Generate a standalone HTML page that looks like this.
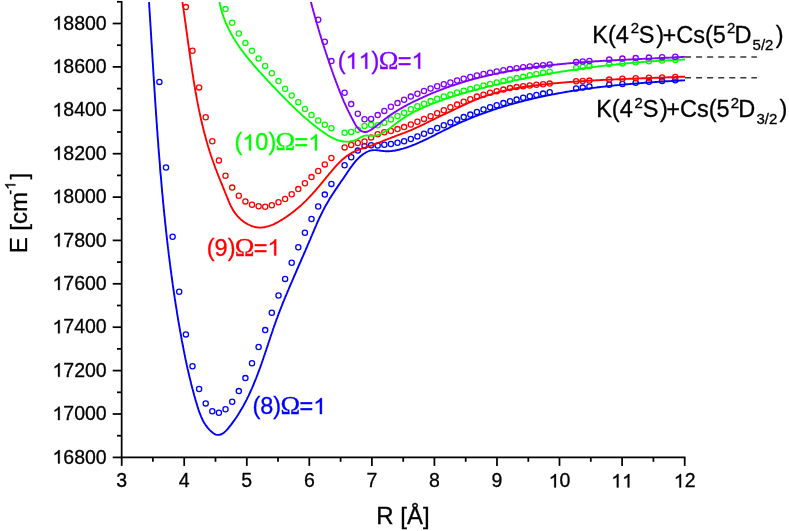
<!DOCTYPE html>
<html><head><meta charset="utf-8"><title>Potential energy curves</title>
<style>html,body{margin:0;padding:0;background:#fff;}svg{display:block;will-change:transform;}text{font-family:"Liberation Sans",sans-serif;stroke-width:0.3px;font-kerning:none;}.om{font-family:"Liberation Serif",serif;}</style>
</head><body>
<svg width="789" height="531" viewBox="0 0 789 531">
<rect width="789" height="531" fill="#fff"/>
<defs><clipPath id="cp"><rect x="122" y="1.5" width="564" height="456"/></clipPath></defs>
<g fill="none" stroke="#0000ff" clip-path="url(#cp)">
<path d="M149.0,2.1 L149.1,3.2 L149.2,4.4 L149.2,5.6 L149.3,6.8 L149.4,8.0 L149.5,9.2 L149.5,10.4 L149.6,11.5 L149.7,12.7 L149.8,13.9 L149.8,15.1 L149.9,16.3 L150.0,17.5 L150.1,18.7 L150.1,19.9 L150.2,21.1 L150.3,22.2 L150.4,23.4 L150.4,24.6 L150.5,25.8 L150.6,27.0 L150.7,28.2 L150.7,29.4 L150.8,30.6 L150.9,31.8 L151.0,33.0 L151.0,34.1 L151.1,35.3 L151.2,36.5 L151.2,37.7 L151.3,38.9 L151.4,40.1 L151.5,41.3 L151.5,42.5 L151.6,43.7 L151.7,44.9 L151.8,46.1 L151.8,47.3 L151.9,48.5 L152.0,49.7 L152.1,50.9 L152.1,52.0 L152.2,53.2 L152.3,54.4 L152.3,55.6 L152.4,56.8 L152.5,58.0 L152.6,59.2 L152.6,60.4 L152.7,61.6 L152.8,62.8 L152.9,64.0 L152.9,65.2 L153.0,66.4 L153.1,67.6 L153.2,68.8 L153.2,70.0 L153.3,71.2 L153.4,72.4 L153.5,73.6 L153.5,74.8 L153.6,76.0 L153.7,77.2 L153.8,78.4 L153.8,79.6 L153.9,80.8 L154.0,82.0 L154.1,83.2 L154.1,84.4 L154.2,85.6 L154.3,86.8 L154.4,88.0 L154.4,89.2 L154.5,90.4 L154.6,91.6 L154.7,92.8 L154.8,94.0 L154.8,95.2 L154.9,96.4 L155.0,97.6 L155.1,98.8 L155.1,100.0 L155.2,101.2 L155.3,102.4 L155.4,103.6 L155.5,104.8 L155.5,106.0 L155.6,107.2 L155.7,108.4 L155.8,109.6 L155.9,110.8 L155.9,112.0 L156.0,113.2 L156.1,114.4 L156.2,115.6 L156.3,116.8 L156.4,118.0 L156.4,119.2 L156.5,120.4 L156.6,121.6 L156.7,122.8 L156.8,124.0 L156.9,125.2 L156.9,126.4 L157.0,127.6 L157.1,128.8 L157.2,130.0 L157.3,131.2 L157.4,132.4 L157.5,133.6 L157.5,134.8 L157.6,136.0 L157.7,137.2 L157.8,138.4 L157.9,139.6 L158.0,140.8 L158.1,142.0 L158.2,143.2 L158.3,144.4 L158.3,145.6 L158.4,146.8 L158.5,148.0 L158.6,149.2 L158.7,150.4 L158.8,151.6 L158.9,152.8 L159.0,154.0 L159.1,155.2 L159.2,156.5 L159.3,157.7 L159.4,158.9 L159.5,160.1 L159.6,161.3 L159.7,162.5 L159.8,163.7 L159.9,164.9 L160.0,166.1 L160.0,167.3 L160.1,168.5 L160.2,169.7 L160.3,170.9 L160.4,172.1 L160.5,173.3 L160.6,174.5 L160.8,175.7 L160.9,176.9 L161.0,178.1 L161.1,179.3 L161.2,180.5 L161.3,181.7 L161.4,182.9 L161.5,184.1 L161.6,185.3 L161.7,186.5 L161.8,187.7 L161.9,188.9 L162.0,190.1 L162.1,191.3 L162.2,192.5 L162.3,193.7 L162.5,194.9 L162.6,196.1 L162.7,197.3 L162.8,198.5 L162.9,199.7 L163.0,200.9 L163.1,202.1 L163.2,203.3 L163.4,204.5 L163.5,205.7 L163.6,206.9 L163.7,208.1 L163.8,209.3 L163.9,210.5 L164.1,211.7 L164.2,212.9 L164.3,214.1 L164.4,215.3 L164.6,216.5 L164.7,217.7 L164.8,218.9 L164.9,220.1 L165.0,221.3 L165.2,222.5 L165.3,223.6 L165.4,224.8 L165.6,226.0 L165.7,227.2 L165.8,228.4 L165.9,229.6 L166.1,230.8 L166.2,232.0 L166.3,233.2 L166.5,234.4 L166.6,235.6 L166.7,236.8 L166.9,238.0 L167.0,239.2 L167.1,240.4 L167.3,241.6 L167.4,242.8 L167.5,244.0 L167.7,245.2 L167.8,246.4 L168.0,247.5 L168.1,248.7 L168.3,249.9 L168.4,251.1 L168.5,252.3 L168.7,253.5 L168.8,254.7 L169.0,255.9 L169.1,257.1 L169.3,258.3 L169.4,259.5 L169.6,260.7 L169.7,261.8 L169.9,263.0 L170.0,264.2 L170.2,265.4 L170.3,266.6 L170.5,267.8 L170.6,269.0 L170.8,270.2 L171.0,271.4 L171.1,272.5 L171.3,273.7 L171.4,274.9 L171.6,276.1 L171.8,277.3 L171.9,278.5 L172.1,279.7 L172.2,280.8 L172.4,282.0 L172.6,283.2 L172.7,284.4 L172.9,285.6 L173.1,286.8 L173.3,288.0 L173.4,289.1 L173.6,290.3 L173.8,291.5 L173.9,292.7 L174.1,293.9 L174.3,295.1 L174.5,296.2 L174.6,297.4 L174.8,298.6 L175.0,299.8 L175.2,301.0 L175.4,302.1 L175.5,303.3 L175.7,304.5 L175.9,305.7 L176.1,306.9 L176.3,308.0 L176.5,309.2 L176.7,310.4 L176.9,311.6 L177.0,312.7 L177.2,313.9 L177.4,315.1 L177.6,316.3 L177.8,317.4 L178.0,318.6 L178.2,319.8 L178.4,321.0 L178.6,322.1 L178.8,323.3 L179.0,324.5 L179.2,325.7 L179.4,326.8 L179.6,328.0 L179.8,329.2 L180.0,330.4 L180.2,331.5 L180.5,332.7 L180.7,333.9 L180.9,335.0 L181.1,336.2 L181.3,337.4 L181.5,338.5 L181.7,339.7 L181.9,340.9 L182.2,342.1 L182.4,343.2 L182.6,344.4 L182.8,345.6 L183.1,346.7 L183.3,347.9 L183.5,349.0 L183.7,350.2 L184.0,351.4 L184.2,352.5 L184.4,353.7 L184.7,354.9 L184.9,356.0 L185.1,357.2 L185.4,358.4 L185.6,359.5 L185.9,360.7 L186.1,361.9 L186.4,363.0 L186.6,364.2 L186.9,365.4 L187.1,366.5 L187.4,367.7 L187.6,368.9 L187.9,370.0 L188.2,371.2 L188.4,372.3 L188.7,373.5 L189.0,374.7 L189.2,375.8 L189.5,377.0 L189.8,378.2 L190.1,379.3 L190.4,380.5 L190.7,381.7 L191.0,382.8 L191.2,384.0 L191.5,385.2 L191.8,386.3 L192.1,387.5 L192.4,388.7 L192.8,389.8 L193.1,391.0 L193.4,392.2 L193.7,393.4 L194.0,394.5 L194.3,395.7 L194.7,396.9 L195.0,398.0 L195.3,399.2 L195.7,400.4 L196.0,401.6 L196.4,402.7 L196.7,403.9 L197.1,405.1 L197.4,406.3 L197.8,407.4 L198.2,408.6 L198.5,409.8 L198.9,410.9 L199.3,412.1 L199.8,413.2 L200.2,414.4 L200.7,415.5 L201.1,416.6 L201.6,417.7 L202.1,418.8 L202.6,419.9 L203.2,420.9 L203.7,422.0 L204.3,423.0 L205.0,424.0 L205.6,425.0 L206.3,425.9 L207.0,426.9 L207.7,427.8 L208.5,428.7 L209.3,429.6 L210.1,430.4 L211.0,431.2 L211.9,432.0 L212.8,432.8 L213.8,433.5 L214.8,434.1 L215.9,434.6 L217.0,434.9 L218.2,434.9 L219.4,434.8 L220.6,434.5 L221.8,434.0 L222.9,433.4 L223.9,432.7 L224.8,431.9 L225.7,431.1 L226.6,430.2 L227.4,429.3 L228.2,428.4 L228.9,427.4 L229.7,426.5 L230.4,425.5 L231.2,424.6 L231.9,423.6 L232.6,422.6 L233.3,421.6 L234.1,420.7 L234.7,419.7 L235.4,418.7 L236.1,417.7 L236.8,416.7 L237.4,415.7 L238.1,414.7 L238.7,413.7 L239.4,412.6 L240.0,411.6 L240.6,410.6 L241.2,409.6 L241.8,408.5 L242.4,407.5 L243.0,406.5 L243.6,405.4 L244.1,404.4 L244.7,403.3 L245.3,402.3 L245.8,401.2 L246.4,400.1 L246.9,399.1 L247.4,398.0 L248.0,396.9 L248.5,395.9 L249.0,394.8 L249.5,393.7 L250.0,392.6 L250.5,391.5 L251.0,390.4 L251.5,389.3 L252.0,388.3 L252.4,387.2 L252.9,386.1 L253.4,385.0 L253.8,383.9 L254.3,382.7 L254.7,381.6 L255.2,380.5 L255.6,379.4 L256.1,378.3 L256.5,377.2 L256.9,376.1 L257.4,374.9 L257.8,373.8 L258.2,372.7 L258.6,371.6 L259.1,370.5 L259.5,369.3 L259.9,368.2 L260.3,367.1 L260.7,365.9 L261.1,364.8 L261.5,363.7 L261.9,362.5 L262.3,361.4 L262.7,360.3 L263.1,359.1 L263.5,358.0 L263.8,356.8 L264.2,355.7 L264.6,354.6 L265.0,353.4 L265.4,352.3 L265.8,351.1 L266.2,350.0 L266.5,348.8 L266.9,347.7 L267.3,346.6 L267.7,345.4 L268.1,344.3 L268.4,343.1 L268.8,342.0 L269.2,340.8 L269.6,339.7 L270.0,338.6 L270.3,337.4 L270.7,336.3 L271.1,335.1 L271.5,334.0 L271.9,332.8 L272.3,331.7 L272.7,330.6 L273.0,329.4 L273.4,328.3 L273.8,327.2 L274.2,326.0 L274.6,324.9 L275.0,323.8 L275.4,322.6 L275.8,321.5 L276.2,320.4 L276.6,319.2 L277.1,318.1 L277.5,317.0 L277.9,315.9 L278.3,314.8 L278.7,313.6 L279.2,312.5 L279.6,311.4 L280.0,310.3 L280.4,309.2 L280.9,308.1 L281.3,306.9 L281.8,305.8 L282.2,304.7 L282.6,303.6 L283.1,302.5 L283.5,301.4 L284.0,300.3 L284.4,299.2 L284.9,298.1 L285.3,297.0 L285.8,295.9 L286.3,294.8 L286.7,293.7 L287.2,292.6 L287.6,291.5 L288.1,290.4 L288.6,289.3 L289.0,288.2 L289.5,287.1 L290.0,286.0 L290.4,284.9 L290.9,283.8 L291.4,282.7 L291.9,281.6 L292.3,280.5 L292.8,279.4 L293.3,278.3 L293.8,277.2 L294.2,276.1 L294.7,275.0 L295.2,273.9 L295.7,272.8 L296.2,271.7 L296.6,270.6 L297.1,269.5 L297.6,268.4 L298.1,267.3 L298.6,266.2 L299.0,265.1 L299.5,264.0 L300.0,262.9 L300.5,261.8 L301.0,260.7 L301.4,259.6 L301.9,258.5 L302.4,257.4 L302.9,256.3 L303.4,255.2 L303.8,254.1 L304.3,253.0 L304.8,251.9 L305.3,250.8 L305.7,249.7 L306.2,248.6 L306.7,247.5 L307.2,246.4 L307.6,245.3 L308.1,244.2 L308.6,243.1 L309.1,242.0 L309.5,240.9 L310.0,239.8 L310.5,238.6 L310.9,237.5 L311.4,236.4 L311.9,235.3 L312.3,234.2 L312.8,233.1 L313.3,232.0 L313.8,230.9 L314.2,229.7 L314.7,228.6 L315.2,227.5 L315.7,226.4 L316.2,225.3 L316.6,224.2 L317.1,223.1 L317.6,222.0 L318.1,220.9 L318.6,219.8 L319.1,218.7 L319.6,217.6 L320.1,216.5 L320.7,215.5 L321.2,214.4 L321.7,213.3 L322.3,212.2 L322.8,211.1 L323.3,210.1 L323.9,209.0 L324.4,208.0 L325.0,206.9 L325.6,205.8 L326.2,204.8 L326.8,203.8 L327.4,202.7 L328.0,201.7 L328.6,200.7 L329.2,199.6 L329.8,198.6 L330.4,197.6 L331.1,196.6 L331.7,195.6 L332.4,194.6 L333.0,193.6 L333.7,192.6 L334.3,191.6 L335.0,190.6 L335.6,189.6 L336.3,188.6 L337.0,187.6 L337.7,186.6 L338.3,185.6 L339.0,184.6 L339.7,183.6 L340.4,182.6 L341.0,181.6 L341.7,180.7 L342.4,179.7 L343.1,178.7 L343.8,177.7 L344.4,176.7 L345.1,175.7 L345.8,174.7 L346.5,173.7 L347.1,172.7 L347.8,171.7 L348.5,170.7 L349.2,169.7 L349.8,168.7 L350.5,167.7 L351.2,166.8 L352.0,165.8 L352.7,164.8 L353.4,163.9 L354.2,163.0 L354.9,162.0 L355.7,161.1 L356.5,160.2 L357.3,159.4 L358.2,158.5 L359.0,157.7 L359.9,156.8 L360.8,156.0 L361.8,155.3 L362.7,154.5 L363.7,153.8 L364.7,153.2 L365.8,152.5 L366.8,152.0 L367.9,151.5 L369.0,151.0 L370.1,150.7 L371.3,150.4 L372.4,150.2 L373.6,150.1 L374.8,150.1 L376.0,150.1 L377.2,150.2 L378.4,150.4 L379.6,150.5 L380.8,150.7 L382.0,150.9 L383.3,151.0 L384.5,151.1 L385.7,151.2 L386.9,151.2 L388.1,151.2 L389.3,151.2 L390.5,151.1 L391.6,151.0 L392.8,150.8 L394.0,150.7 L395.2,150.5 L396.3,150.3 L397.5,150.0 L398.6,149.8 L399.8,149.5 L400.9,149.2 L402.1,148.9 L403.2,148.6 L404.4,148.2 L405.5,147.9 L406.7,147.5 L407.8,147.1 L408.9,146.7 L410.0,146.3 L411.2,145.9 L412.3,145.4 L413.4,145.0 L414.5,144.5 L415.6,144.1 L416.7,143.6 L417.8,143.1 L418.9,142.7 L420.0,142.2 L421.1,141.7 L422.2,141.2 L423.3,140.6 L424.4,140.1 L425.5,139.6 L426.6,139.1 L427.7,138.6 L428.8,138.0 L429.8,137.5 L430.9,137.0 L432.0,136.4 L433.1,135.9 L434.2,135.3 L435.2,134.8 L436.3,134.2 L437.4,133.7 L438.5,133.2 L439.5,132.6 L440.6,132.1 L441.7,131.5 L442.8,131.0 L443.9,130.4 L444.9,129.9 L446.0,129.4 L447.1,128.8 L448.2,128.3 L449.2,127.8 L450.3,127.2 L451.4,126.7 L452.5,126.2 L453.6,125.7 L454.7,125.2 L455.8,124.7 L456.9,124.2 L457.9,123.7 L459.0,123.2 L460.1,122.7 L461.2,122.2 L462.3,121.7 L463.4,121.2 L464.5,120.8 L465.6,120.3 L466.7,119.8 L467.8,119.4 L469.0,118.9 L470.1,118.4 L471.2,118.0 L472.3,117.5 L473.4,117.1 L474.5,116.7 L475.6,116.2 L476.7,115.8 L477.9,115.4 L479.0,114.9 L480.1,114.5 L481.2,114.1 L482.3,113.7 L483.5,113.3 L484.6,112.9 L485.7,112.5 L486.8,112.1 L488.0,111.7 L489.1,111.3 L490.2,110.9 L491.4,110.5 L492.5,110.1 L493.6,109.7 L494.8,109.3 L495.9,109.0 L497.0,108.6 L498.2,108.2 L499.3,107.9 L500.5,107.5 L501.6,107.1 L502.7,106.8 L503.9,106.4 L505.0,106.1 L506.2,105.8 L507.3,105.4 L508.5,105.1 L509.6,104.7 L510.8,104.4 L511.9,104.1 L513.1,103.8 L514.2,103.4 L515.4,103.1 L516.5,102.8 L517.7,102.5 L518.8,102.2 L520.0,101.9 L521.1,101.6 L522.3,101.3 L523.5,101.0 L524.6,100.7 L525.8,100.4 L526.9,100.1 L528.1,99.8 L529.3,99.5 L530.4,99.2 L531.6,99.0 L532.8,98.7 L533.9,98.4 L535.1,98.1 L536.3,97.9 L537.4,97.6 L538.6,97.3 L539.8,97.1 L541.0,96.8 L542.1,96.6 L543.3,96.3 L544.5,96.1 L545.6,95.8 L546.8,95.6 L548.0,95.3 L549.2,95.1 L550.4,94.9 L551.5,94.6 L552.7,94.4 L553.9,94.2 L555.1,94.0 L556.2,93.7 L557.4,93.5 L558.6,93.3 L559.8,93.1 L561.0,92.9 L562.2,92.7 L563.3,92.4 L564.5,92.2 L565.7,92.0 L566.9,91.8 L568.1,91.6 L569.3,91.4 L570.4,91.2 L571.6,91.0 L572.8,90.9 L574.0,90.7 L575.2,90.5 L576.4,90.3 L577.6,90.1 L578.8,89.9 L579.9,89.8 L581.1,89.6 L582.3,89.4 L583.5,89.2 L584.7,89.1 L585.9,88.9 L587.1,88.7 L588.3,88.6 L589.5,88.4 L590.7,88.2 L591.9,88.1 L593.1,87.9 L594.3,87.8 L595.4,87.6 L596.6,87.5 L597.8,87.3 L599.0,87.2 L600.2,87.0 L601.4,86.9 L602.6,86.8 L603.8,86.6 L605.0,86.5 L606.2,86.3 L607.4,86.2 L608.6,86.1 L609.8,85.9 L611.0,85.8 L612.2,85.7 L613.4,85.6 L614.6,85.4 L615.8,85.3 L617.0,85.2 L618.2,85.1 L619.4,85.0 L620.6,84.8 L621.8,84.7 L623.0,84.6 L624.1,84.5 L625.3,84.4 L626.5,84.3 L627.7,84.2 L628.9,84.1 L630.1,84.0 L631.3,83.9 L632.5,83.8 L633.7,83.7 L634.9,83.6 L636.1,83.5 L637.3,83.4 L638.5,83.3 L639.7,83.2 L640.9,83.1 L642.1,83.0 L643.3,82.9 L644.5,82.8 L645.7,82.7 L646.9,82.6 L648.1,82.5 L649.3,82.4 L650.5,82.4 L651.7,82.3 L652.9,82.2 L654.1,82.1 L655.3,82.0 L656.4,82.0 L657.6,81.9 L658.8,81.8 L660.0,81.7 L661.2,81.6 L662.4,81.6 L663.6,81.5 L664.8,81.4 L666.0,81.3 L667.2,81.3 L668.4,81.2 L669.6,81.1 L670.8,81.1 L671.9,81.0 L673.1,80.9 L674.3,80.9 L675.5,80.8 L676.7,80.7 L677.9,80.7 L679.1,80.6 L680.3,80.5 L681.5,80.5 L682.6,80.4 L683.8,80.4 L685.0,80.3" stroke-width="1.9" stroke-linejoin="round"/>
<g stroke-width="1.3">
<circle cx="159.4" cy="81.9" r="2.6"/>
<circle cx="166.0" cy="167.5" r="2.6"/>
<circle cx="172.6" cy="236.8" r="2.6"/>
<circle cx="179.2" cy="291.7" r="2.6"/>
<circle cx="185.9" cy="334.4" r="2.6"/>
<circle cx="192.5" cy="366.3" r="2.6"/>
<circle cx="199.1" cy="389.0" r="2.6"/>
<circle cx="205.7" cy="403.4" r="2.6"/>
<circle cx="212.3" cy="411.3" r="2.6"/>
<circle cx="218.9" cy="412.7" r="2.6"/>
<circle cx="225.5" cy="409.3" r="2.6"/>
<circle cx="232.2" cy="401.8" r="2.6"/>
<circle cx="238.8" cy="391.1" r="2.6"/>
<circle cx="245.4" cy="378.1" r="2.6"/>
<circle cx="252.0" cy="363.2" r="2.6"/>
<circle cx="258.6" cy="347.0" r="2.6"/>
<circle cx="265.2" cy="330.1" r="2.6"/>
<circle cx="271.8" cy="312.8" r="2.6"/>
<circle cx="278.5" cy="295.5" r="2.6"/>
<circle cx="285.1" cy="278.9" r="2.6"/>
<circle cx="291.7" cy="262.8" r="2.6"/>
<circle cx="298.3" cy="247.2" r="2.6"/>
<circle cx="304.9" cy="232.7" r="2.6"/>
<circle cx="311.5" cy="219.0" r="2.6"/>
<circle cx="318.2" cy="206.5" r="2.6"/>
<circle cx="324.8" cy="194.6" r="2.6"/>
<circle cx="331.4" cy="183.9" r="2.6"/>
<circle cx="344.6" cy="165.3" r="2.6"/>
<circle cx="351.2" cy="157.3" r="2.6"/>
<circle cx="357.8" cy="150.6" r="2.6"/>
<circle cx="364.5" cy="146.0" r="2.6"/>
<circle cx="371.1" cy="145.3" r="2.6"/>
<circle cx="377.7" cy="145.5" r="2.6"/>
<circle cx="384.3" cy="144.8" r="2.6"/>
<circle cx="390.9" cy="144.0" r="2.6"/>
<circle cx="397.5" cy="142.8" r="2.6"/>
<circle cx="404.1" cy="141.2" r="2.6"/>
<circle cx="410.8" cy="139.0" r="2.6"/>
<circle cx="417.4" cy="136.4" r="2.6"/>
<circle cx="424.0" cy="133.7" r="2.6"/>
<circle cx="430.6" cy="130.9" r="2.6"/>
<circle cx="437.2" cy="128.0" r="2.6"/>
<circle cx="443.8" cy="125.2" r="2.6"/>
<circle cx="450.4" cy="122.4" r="2.6"/>
<circle cx="457.1" cy="119.7" r="2.6"/>
<circle cx="463.7" cy="117.1" r="2.6"/>
<circle cx="470.3" cy="114.6" r="2.6"/>
<circle cx="476.9" cy="112.0" r="2.6"/>
<circle cx="483.5" cy="109.5" r="2.6"/>
<circle cx="490.1" cy="107.2" r="2.6"/>
<circle cx="496.7" cy="105.3" r="2.6"/>
<circle cx="503.4" cy="103.1" r="2.6"/>
<circle cx="510.0" cy="101.2" r="2.6"/>
<circle cx="516.6" cy="99.6" r="2.6"/>
<circle cx="523.2" cy="97.8" r="2.6"/>
<circle cx="529.8" cy="96.2" r="2.6"/>
<circle cx="536.4" cy="95.0" r="2.6"/>
<circle cx="543.1" cy="93.6" r="2.6"/>
<circle cx="549.7" cy="92.2" r="2.6"/>
<circle cx="576.1" cy="88.5" r="2.6"/>
<circle cx="582.7" cy="87.6" r="2.6"/>
<circle cx="589.4" cy="86.5" r="2.6"/>
<circle cx="609.2" cy="84.7" r="2.6"/>
<circle cx="622.4" cy="84.0" r="2.6"/>
<circle cx="635.7" cy="82.7" r="2.6"/>
<circle cx="648.9" cy="81.8" r="2.6"/>
<circle cx="662.1" cy="80.9" r="2.6"/>
<circle cx="675.3" cy="80.3" r="2.6"/>
</g></g>
<g fill="none" stroke="#ff0000" clip-path="url(#cp)">
<path d="M182.4,2.0 L182.6,3.2 L182.8,4.3 L182.9,5.5 L183.1,6.7 L183.3,7.8 L183.5,9.0 L183.6,10.2 L183.8,11.4 L184.0,12.5 L184.1,13.7 L184.3,14.9 L184.5,16.1 L184.6,17.3 L184.8,18.4 L185.0,19.6 L185.1,20.8 L185.3,22.0 L185.5,23.2 L185.6,24.3 L185.8,25.5 L186.0,26.7 L186.1,27.9 L186.3,29.1 L186.4,30.3 L186.6,31.4 L186.8,32.6 L186.9,33.8 L187.1,35.0 L187.3,36.2 L187.4,37.4 L187.6,38.6 L187.7,39.8 L187.9,40.9 L188.1,42.1 L188.2,43.3 L188.4,44.5 L188.6,45.7 L188.7,46.9 L188.9,48.1 L189.1,49.3 L189.2,50.5 L189.4,51.7 L189.6,52.8 L189.7,54.0 L189.9,55.2 L190.1,56.4 L190.2,57.6 L190.4,58.8 L190.6,60.0 L190.7,61.2 L190.9,62.4 L191.1,63.6 L191.3,64.8 L191.4,66.0 L191.6,67.1 L191.8,68.3 L192.0,69.5 L192.1,70.7 L192.3,71.9 L192.5,73.1 L192.7,74.3 L192.9,75.5 L193.1,76.7 L193.3,77.9 L193.4,79.1 L193.6,80.3 L193.8,81.4 L194.0,82.6 L194.2,83.8 L194.4,85.0 L194.6,86.2 L194.8,87.4 L195.0,88.6 L195.2,89.8 L195.4,91.0 L195.6,92.1 L195.8,93.3 L196.1,94.5 L196.3,95.7 L196.5,96.9 L196.7,98.1 L196.9,99.3 L197.1,100.4 L197.4,101.6 L197.6,102.8 L197.8,104.0 L198.1,105.2 L198.3,106.3 L198.5,107.5 L198.8,108.7 L199.0,109.9 L199.3,111.1 L199.5,112.2 L199.8,113.4 L200.0,114.6 L200.3,115.8 L200.5,116.9 L200.8,118.1 L201.0,119.3 L201.3,120.4 L201.6,121.6 L201.8,122.8 L202.1,124.0 L202.4,125.1 L202.7,126.3 L203.0,127.4 L203.3,128.6 L203.5,129.8 L203.8,130.9 L204.1,132.1 L204.4,133.3 L204.7,134.4 L205.1,135.6 L205.4,136.7 L205.7,137.9 L206.0,139.0 L206.3,140.2 L206.6,141.3 L207.0,142.5 L207.3,143.6 L207.6,144.8 L208.0,145.9 L208.3,147.1 L208.7,148.2 L209.0,149.4 L209.4,150.5 L209.7,151.7 L210.1,152.8 L210.5,153.9 L210.8,155.1 L211.2,156.2 L211.6,157.3 L212.0,158.5 L212.4,159.6 L212.8,160.7 L213.2,161.8 L213.6,163.0 L214.0,164.1 L214.4,165.2 L214.8,166.3 L215.2,167.5 L215.6,168.6 L216.1,169.7 L216.5,170.8 L216.9,171.9 L217.3,173.0 L217.8,174.2 L218.2,175.3 L218.7,176.4 L219.1,177.5 L219.5,178.6 L220.0,179.7 L220.4,180.8 L220.9,181.9 L221.3,183.0 L221.8,184.1 L222.2,185.2 L222.7,186.4 L223.1,187.5 L223.6,188.6 L224.0,189.7 L224.5,190.8 L224.9,191.9 L225.4,193.0 L225.8,194.1 L226.3,195.2 L226.7,196.3 L227.2,197.4 L227.6,198.5 L228.1,199.6 L228.5,200.8 L229.0,201.9 L229.4,202.9 L229.9,204.0 L230.4,205.1 L230.9,206.2 L231.5,207.3 L232.1,208.3 L232.6,209.4 L233.3,210.4 L233.9,211.4 L234.6,212.4 L235.3,213.4 L236.1,214.4 L236.9,215.3 L237.7,216.3 L238.5,217.2 L239.4,218.0 L240.3,218.9 L241.2,219.7 L242.2,220.5 L243.2,221.3 L244.1,222.0 L245.1,222.7 L246.2,223.3 L247.2,223.9 L248.3,224.5 L249.4,225.0 L250.5,225.5 L251.6,226.0 L252.7,226.3 L253.8,226.7 L255.0,227.0 L256.1,227.2 L257.3,227.4 L258.4,227.5 L259.6,227.6 L260.8,227.6 L261.9,227.5 L263.1,227.4 L264.3,227.2 L265.5,227.0 L266.6,226.7 L267.8,226.4 L269.0,226.1 L270.1,225.7 L271.2,225.2 L272.4,224.8 L273.5,224.3 L274.6,223.8 L275.7,223.2 L276.8,222.6 L277.9,222.1 L278.9,221.5 L280.0,220.8 L281.1,220.2 L282.1,219.6 L283.1,219.0 L284.2,218.3 L285.2,217.6 L286.2,217.0 L287.2,216.3 L288.2,215.6 L289.2,214.9 L290.1,214.2 L291.1,213.5 L292.0,212.8 L293.0,212.1 L293.9,211.3 L294.9,210.6 L295.8,209.8 L296.7,209.1 L297.6,208.3 L298.5,207.5 L299.4,206.8 L300.3,206.0 L301.2,205.2 L302.0,204.4 L302.9,203.6 L303.8,202.8 L304.6,201.9 L305.5,201.1 L306.3,200.3 L307.1,199.4 L308.0,198.6 L308.8,197.7 L309.6,196.9 L310.4,196.0 L311.2,195.2 L312.0,194.3 L312.8,193.4 L313.6,192.5 L314.4,191.7 L315.2,190.8 L316.0,189.9 L316.7,189.0 L317.5,188.1 L318.3,187.2 L319.0,186.3 L319.8,185.3 L320.6,184.4 L321.3,183.5 L322.1,182.6 L322.9,181.7 L323.6,180.7 L324.4,179.8 L325.2,178.9 L325.9,177.9 L326.7,177.0 L327.5,176.0 L328.3,175.1 L329.0,174.2 L329.8,173.2 L330.6,172.3 L331.4,171.3 L332.2,170.4 L333.0,169.5 L333.8,168.5 L334.6,167.6 L335.4,166.7 L336.2,165.8 L337.0,164.9 L337.9,164.0 L338.7,163.2 L339.6,162.3 L340.5,161.5 L341.3,160.6 L342.2,159.8 L343.1,159.0 L344.0,158.3 L345.0,157.5 L345.9,156.8 L346.8,156.1 L347.8,155.4 L348.8,154.7 L349.8,154.1 L350.8,153.5 L351.8,152.9 L352.8,152.3 L353.9,151.8 L355.0,151.3 L356.0,150.8 L357.1,150.3 L358.3,149.9 L359.4,149.5 L360.5,149.1 L361.7,148.7 L362.8,148.3 L363.9,148.0 L365.1,147.6 L366.2,147.2 L367.4,146.8 L368.5,146.5 L369.7,146.1 L370.8,145.7 L372.0,145.3 L373.1,144.9 L374.2,144.4 L375.3,144.0 L376.4,143.6 L377.6,143.2 L378.7,142.7 L379.8,142.3 L380.9,141.8 L382.0,141.4 L383.1,140.9 L384.2,140.5 L385.3,140.0 L386.4,139.6 L387.6,139.2 L388.7,138.7 L389.8,138.3 L390.9,137.8 L392.0,137.4 L393.1,137.0 L394.3,136.6 L395.4,136.1 L396.5,135.7 L397.6,135.3 L398.7,134.9 L399.9,134.5 L401.0,134.0 L402.1,133.6 L403.2,133.2 L404.4,132.8 L405.5,132.3 L406.6,131.9 L407.7,131.5 L408.8,131.0 L409.9,130.6 L411.1,130.1 L412.2,129.6 L413.3,129.2 L414.4,128.7 L415.4,128.2 L416.5,127.7 L417.6,127.2 L418.7,126.7 L419.8,126.2 L420.9,125.6 L422.0,125.1 L423.0,124.6 L424.1,124.1 L425.2,123.5 L426.3,123.0 L427.3,122.5 L428.4,121.9 L429.5,121.4 L430.6,120.9 L431.6,120.3 L432.7,119.8 L433.8,119.3 L434.9,118.8 L435.9,118.2 L437.0,117.7 L438.1,117.2 L439.2,116.7 L440.2,116.2 L441.3,115.7 L442.4,115.2 L443.5,114.7 L444.6,114.1 L445.7,113.6 L446.7,113.1 L447.8,112.6 L448.9,112.1 L450.0,111.6 L451.1,111.1 L452.2,110.6 L453.3,110.1 L454.4,109.5 L455.4,109.0 L456.5,108.5 L457.6,108.0 L458.7,107.4 L459.8,106.9 L460.9,106.4 L462.0,105.9 L463.1,105.4 L464.2,104.8 L465.2,104.3 L466.3,103.8 L467.4,103.3 L468.5,102.8 L469.6,102.3 L470.7,101.8 L471.8,101.3 L473.0,100.9 L474.1,100.4 L475.2,99.9 L476.3,99.5 L477.4,99.0 L478.5,98.6 L479.6,98.1 L480.8,97.7 L481.9,97.3 L483.0,96.9 L484.1,96.5 L485.3,96.1 L486.4,95.7 L487.5,95.4 L488.7,95.0 L489.8,94.6 L491.0,94.3 L492.1,93.9 L493.2,93.6 L494.4,93.3 L495.5,93.0 L496.7,92.6 L497.8,92.3 L499.0,92.0 L500.2,91.7 L501.3,91.4 L502.5,91.2 L503.6,90.9 L504.8,90.6 L506.0,90.4 L507.1,90.1 L508.3,89.8 L509.5,89.6 L510.6,89.3 L511.8,89.1 L513.0,88.9 L514.2,88.7 L515.3,88.4 L516.5,88.2 L517.7,88.0 L518.9,87.8 L520.0,87.6 L521.2,87.4 L522.4,87.2 L523.6,87.0 L524.8,86.8 L526.0,86.7 L527.1,86.5 L528.3,86.3 L529.5,86.1 L530.7,86.0 L531.9,85.8 L533.1,85.7 L534.3,85.5 L535.5,85.4 L536.7,85.2 L537.8,85.1 L539.0,84.9 L540.2,84.8 L541.4,84.7 L542.6,84.5 L543.8,84.4 L545.0,84.3 L546.2,84.1 L547.4,84.0 L548.6,83.9 L549.8,83.8 L551.0,83.7 L552.2,83.5 L553.4,83.4 L554.6,83.3 L555.8,83.2 L556.9,83.1 L558.1,83.0 L559.3,82.9 L560.5,82.8 L561.7,82.7 L562.9,82.6 L564.1,82.5 L565.3,82.4 L566.5,82.3 L567.7,82.2 L568.9,82.1 L570.1,82.0 L571.3,81.9 L572.5,81.8 L573.7,81.7 L574.9,81.6 L576.1,81.6 L577.3,81.5 L578.5,81.4 L579.7,81.3 L580.9,81.2 L582.1,81.1 L583.3,81.1 L584.5,81.0 L585.7,80.9 L586.9,80.8 L588.1,80.8 L589.3,80.7 L590.4,80.6 L591.6,80.6 L592.8,80.5 L594.0,80.4 L595.2,80.4 L596.4,80.3 L597.6,80.2 L598.8,80.2 L600.0,80.1 L601.2,80.0 L602.4,80.0 L603.6,79.9 L604.8,79.9 L606.0,79.8 L607.2,79.7 L608.4,79.7 L609.6,79.6 L610.8,79.6 L612.0,79.5 L613.2,79.5 L614.4,79.4 L615.6,79.4 L616.8,79.3 L618.0,79.3 L619.2,79.2 L620.4,79.2 L621.6,79.1 L622.8,79.1 L624.0,79.0 L625.2,79.0 L626.4,78.9 L627.6,78.9 L628.8,78.8 L630.0,78.8 L631.2,78.7 L632.4,78.7 L633.6,78.6 L634.8,78.6 L636.0,78.5 L637.2,78.5 L638.4,78.4 L639.6,78.4 L640.8,78.4 L642.0,78.3 L643.2,78.3 L644.4,78.2 L645.6,78.2 L646.8,78.1 L648.0,78.1 L649.2,78.0 L650.4,78.0 L651.6,78.0 L652.8,77.9 L654.0,77.9 L655.1,77.8 L656.3,77.8 L657.5,77.7 L658.7,77.7 L659.9,77.6 L661.1,77.6 L662.3,77.6 L663.5,77.5 L664.7,77.5 L665.9,77.4 L667.1,77.4 L668.3,77.3 L669.5,77.3 L670.7,77.2 L671.9,77.2 L673.1,77.1 L674.3,77.1 L675.5,77.0 L676.7,77.0 L677.9,76.9 L679.1,76.9 L680.3,76.8 L681.5,76.8 L682.7,76.7 L683.9,76.7 L685.1,76.6" stroke-width="1.9" stroke-linejoin="round"/>
<g stroke-width="1.3">
<circle cx="185.9" cy="7.1" r="2.6"/>
<circle cx="192.5" cy="50.8" r="2.6"/>
<circle cx="199.1" cy="87.4" r="2.6"/>
<circle cx="205.7" cy="117.3" r="2.6"/>
<circle cx="212.3" cy="141.3" r="2.6"/>
<circle cx="218.9" cy="160.4" r="2.6"/>
<circle cx="225.5" cy="175.8" r="2.6"/>
<circle cx="232.2" cy="187.6" r="2.6"/>
<circle cx="238.8" cy="195.8" r="2.6"/>
<circle cx="245.4" cy="201.4" r="2.6"/>
<circle cx="252.0" cy="204.7" r="2.6"/>
<circle cx="258.6" cy="206.3" r="2.6"/>
<circle cx="265.2" cy="206.7" r="2.6"/>
<circle cx="271.8" cy="205.2" r="2.6"/>
<circle cx="278.5" cy="202.2" r="2.6"/>
<circle cx="285.1" cy="199.0" r="2.6"/>
<circle cx="291.7" cy="194.3" r="2.6"/>
<circle cx="298.3" cy="189.1" r="2.6"/>
<circle cx="304.9" cy="183.2" r="2.6"/>
<circle cx="311.5" cy="177.1" r="2.6"/>
<circle cx="318.2" cy="171.0" r="2.6"/>
<circle cx="324.8" cy="164.4" r="2.6"/>
<circle cx="331.4" cy="158.0" r="2.6"/>
<circle cx="344.6" cy="147.4" r="2.6"/>
<circle cx="351.2" cy="144.9" r="2.6"/>
<circle cx="357.8" cy="143.0" r="2.6"/>
<circle cx="364.5" cy="141.5" r="2.6"/>
<circle cx="371.1" cy="137.4" r="2.6"/>
<circle cx="377.7" cy="134.2" r="2.6"/>
<circle cx="384.3" cy="132.3" r="2.6"/>
<circle cx="390.9" cy="131.0" r="2.6"/>
<circle cx="397.5" cy="129.1" r="2.6"/>
<circle cx="404.1" cy="127.1" r="2.6"/>
<circle cx="410.8" cy="124.5" r="2.6"/>
<circle cx="417.4" cy="121.7" r="2.6"/>
<circle cx="424.0" cy="118.9" r="2.6"/>
<circle cx="430.6" cy="116.3" r="2.6"/>
<circle cx="437.2" cy="113.3" r="2.6"/>
<circle cx="443.8" cy="110.2" r="2.6"/>
<circle cx="450.4" cy="107.3" r="2.6"/>
<circle cx="457.1" cy="104.6" r="2.6"/>
<circle cx="463.7" cy="101.8" r="2.6"/>
<circle cx="470.3" cy="99.3" r="2.6"/>
<circle cx="476.9" cy="96.6" r="2.6"/>
<circle cx="483.5" cy="94.8" r="2.6"/>
<circle cx="490.1" cy="92.8" r="2.6"/>
<circle cx="496.7" cy="91.2" r="2.6"/>
<circle cx="503.4" cy="89.6" r="2.6"/>
<circle cx="510.0" cy="88.1" r="2.6"/>
<circle cx="516.6" cy="87.1" r="2.6"/>
<circle cx="523.2" cy="86.2" r="2.6"/>
<circle cx="529.8" cy="85.5" r="2.6"/>
<circle cx="536.4" cy="84.7" r="2.6"/>
<circle cx="543.1" cy="84.2" r="2.6"/>
<circle cx="549.7" cy="83.6" r="2.6"/>
<circle cx="576.1" cy="81.2" r="2.6"/>
<circle cx="582.7" cy="80.9" r="2.6"/>
<circle cx="589.4" cy="80.6" r="2.6"/>
<circle cx="609.2" cy="79.6" r="2.6"/>
<circle cx="622.4" cy="78.8" r="2.6"/>
<circle cx="635.7" cy="78.3" r="2.6"/>
<circle cx="648.9" cy="77.8" r="2.6"/>
<circle cx="662.1" cy="77.4" r="2.6"/>
<circle cx="675.3" cy="77.0" r="2.6"/>
</g></g>
<g fill="none" stroke="#00ff00" clip-path="url(#cp)">
<path d="M219.5,2.0 L219.8,3.2 L220.0,4.4 L220.3,5.6 L220.5,6.8 L220.8,8.0 L221.1,9.2 L221.5,10.4 L221.8,11.5 L222.1,12.7 L222.5,13.8 L222.9,15.0 L223.3,16.1 L223.7,17.3 L224.1,18.4 L224.5,19.5 L224.9,20.6 L225.4,21.8 L225.8,22.9 L226.3,24.0 L226.8,25.0 L227.3,26.1 L227.8,27.2 L228.3,28.3 L228.8,29.3 L229.4,30.4 L229.9,31.5 L230.5,32.5 L231.0,33.6 L231.6,34.6 L232.2,35.6 L232.8,36.7 L233.4,37.7 L234.0,38.7 L234.7,39.7 L235.3,40.7 L235.9,41.7 L236.6,42.8 L237.2,43.7 L237.9,44.7 L238.6,45.7 L239.2,46.7 L239.9,47.7 L240.6,48.7 L241.3,49.6 L242.0,50.6 L242.8,51.6 L243.5,52.5 L244.2,53.5 L244.9,54.4 L245.7,55.4 L246.4,56.3 L247.2,57.3 L247.9,58.2 L248.7,59.1 L249.4,60.1 L250.2,61.0 L251.0,61.9 L251.8,62.8 L252.5,63.8 L253.3,64.7 L254.1,65.6 L254.9,66.5 L255.7,67.4 L256.5,68.3 L257.3,69.2 L258.1,70.1 L258.9,71.0 L259.7,71.9 L260.5,72.8 L261.4,73.7 L262.2,74.6 L263.0,75.5 L263.8,76.4 L264.6,77.2 L265.4,78.1 L266.3,79.0 L267.1,79.9 L267.9,80.8 L268.7,81.6 L269.6,82.5 L270.4,83.4 L271.2,84.3 L272.0,85.1 L272.8,86.0 L273.7,86.9 L274.5,87.7 L275.3,88.6 L276.1,89.5 L277.0,90.3 L277.8,91.2 L278.6,92.1 L279.4,92.9 L280.3,93.8 L281.1,94.7 L281.9,95.5 L282.7,96.4 L283.6,97.2 L284.4,98.1 L285.2,98.9 L286.1,99.8 L286.9,100.6 L287.8,101.4 L288.6,102.3 L289.4,103.1 L290.3,104.0 L291.1,104.8 L292.0,105.6 L292.8,106.4 L293.7,107.3 L294.6,108.1 L295.4,108.9 L296.3,109.7 L297.2,110.5 L298.0,111.4 L298.9,112.2 L299.8,113.0 L300.7,113.8 L301.5,114.6 L302.4,115.4 L303.3,116.2 L304.2,117.0 L305.1,117.8 L306.0,118.5 L306.9,119.3 L307.9,120.1 L308.8,120.9 L309.7,121.7 L310.6,122.4 L311.6,123.2 L312.5,124.0 L313.4,124.7 L314.4,125.5 L315.3,126.2 L316.3,127.0 L317.3,127.7 L318.2,128.5 L319.2,129.2 L320.2,129.9 L321.2,130.7 L322.2,131.4 L323.2,132.1 L324.2,132.8 L325.2,133.5 L326.2,134.2 L327.2,134.9 L328.3,135.5 L329.3,136.1 L330.4,136.8 L331.4,137.3 L332.5,137.9 L333.6,138.4 L334.6,138.9 L335.7,139.4 L336.8,139.8 L338.0,140.2 L339.1,140.5 L340.2,140.8 L341.4,141.1 L342.5,141.3 L343.7,141.5 L344.9,141.6 L346.0,141.6 L347.2,141.6 L348.4,141.6 L349.6,141.5 L350.8,141.3 L351.9,141.1 L353.1,140.8 L354.2,140.5 L355.4,140.1 L356.5,139.6 L357.6,139.1 L358.6,138.5 L359.7,137.9 L360.7,137.3 L361.8,136.8 L362.8,136.3 L363.9,135.9 L365.0,135.6 L366.2,135.5 L367.4,135.5 L368.6,135.6 L369.8,135.7 L371.1,135.8 L372.3,135.9 L373.5,135.8 L374.7,135.7 L375.9,135.5 L377.0,135.2 L378.2,134.9 L379.3,134.4 L380.4,134.0 L381.5,133.5 L382.5,133.0 L383.6,132.4 L384.6,131.8 L385.6,131.2 L386.6,130.6 L387.6,129.9 L388.6,129.2 L389.6,128.5 L390.5,127.8 L391.5,127.1 L392.5,126.3 L393.4,125.6 L394.4,124.8 L395.3,124.1 L396.3,123.3 L397.3,122.6 L398.2,121.9 L399.2,121.1 L400.2,120.4 L401.1,119.7 L402.1,119.0 L403.1,118.4 L404.1,117.7 L405.2,117.1 L406.2,116.4 L407.2,115.8 L408.2,115.2 L409.3,114.6 L410.3,114.0 L411.4,113.4 L412.4,112.8 L413.5,112.3 L414.5,111.7 L415.6,111.2 L416.7,110.7 L417.8,110.1 L418.8,109.6 L419.9,109.1 L421.0,108.6 L422.1,108.1 L423.2,107.6 L424.3,107.1 L425.4,106.7 L426.5,106.2 L427.6,105.7 L428.7,105.3 L429.8,104.8 L430.9,104.4 L432.0,103.9 L433.1,103.5 L434.2,103.0 L435.4,102.6 L436.5,102.2 L437.6,101.8 L438.7,101.3 L439.8,100.9 L441.0,100.5 L442.1,100.1 L443.2,99.7 L444.3,99.3 L445.5,98.9 L446.6,98.5 L447.7,98.1 L448.9,97.8 L450.0,97.4 L451.2,97.0 L452.3,96.6 L453.4,96.3 L454.6,95.9 L455.7,95.6 L456.9,95.2 L458.0,94.8 L459.2,94.5 L460.3,94.2 L461.5,93.8 L462.6,93.5 L463.8,93.1 L464.9,92.8 L466.1,92.5 L467.2,92.1 L468.4,91.8 L469.6,91.5 L470.7,91.2 L471.9,90.9 L473.0,90.5 L474.2,90.2 L475.3,89.9 L476.5,89.6 L477.7,89.3 L478.8,89.0 L480.0,88.7 L481.2,88.4 L482.3,88.1 L483.5,87.8 L484.6,87.5 L485.8,87.2 L487.0,86.9 L488.1,86.6 L489.3,86.3 L490.5,86.1 L491.6,85.8 L492.8,85.5 L494.0,85.2 L495.1,84.9 L496.3,84.6 L497.5,84.4 L498.6,84.1 L499.8,83.8 L501.0,83.5 L502.2,83.3 L503.3,83.0 L504.5,82.7 L505.7,82.5 L506.8,82.2 L508.0,81.9 L509.2,81.7 L510.3,81.4 L511.5,81.2 L512.7,80.9 L513.9,80.6 L515.0,80.4 L516.2,80.1 L517.4,79.9 L518.6,79.6 L519.7,79.4 L520.9,79.1 L522.1,78.9 L523.3,78.7 L524.4,78.4 L525.6,78.2 L526.8,77.9 L528.0,77.7 L529.1,77.5 L530.3,77.2 L531.5,77.0 L532.7,76.8 L533.8,76.6 L535.0,76.3 L536.2,76.1 L537.4,75.9 L538.6,75.7 L539.7,75.4 L540.9,75.2 L542.1,75.0 L543.3,74.8 L544.5,74.6 L545.6,74.4 L546.8,74.1 L548.0,73.9 L549.2,73.7 L550.4,73.5 L551.5,73.3 L552.7,73.1 L553.9,72.9 L555.1,72.7 L556.3,72.5 L557.5,72.3 L558.6,72.1 L559.8,71.9 L561.0,71.7 L562.2,71.5 L563.4,71.4 L564.6,71.2 L565.7,71.0 L566.9,70.8 L568.1,70.6 L569.3,70.4 L570.5,70.2 L571.7,70.1 L572.9,69.9 L574.0,69.7 L575.2,69.5 L576.4,69.4 L577.6,69.2 L578.8,69.0 L580.0,68.9 L581.2,68.7 L582.3,68.5 L583.5,68.4 L584.7,68.2 L585.9,68.0 L587.1,67.9 L588.3,67.7 L589.5,67.6 L590.7,67.4 L591.9,67.2 L593.0,67.1 L594.2,66.9 L595.4,66.8 L596.6,66.6 L597.8,66.5 L599.0,66.3 L600.2,66.2 L601.4,66.1 L602.6,65.9 L603.8,65.8 L605.0,65.6 L606.1,65.5 L607.3,65.4 L608.5,65.2 L609.7,65.1 L610.9,65.0 L612.1,64.8 L613.3,64.7 L614.5,64.6 L615.7,64.5 L616.9,64.3 L618.1,64.2 L619.3,64.1 L620.5,64.0 L621.7,63.8 L622.8,63.7 L624.0,63.6 L625.2,63.5 L626.4,63.4 L627.6,63.3 L628.8,63.2 L630.0,63.1 L631.2,62.9 L632.4,62.8 L633.6,62.7 L634.8,62.6 L636.0,62.5 L637.2,62.4 L638.4,62.3 L639.6,62.2 L640.8,62.1 L642.0,62.0 L643.2,61.9 L644.4,61.9 L645.6,61.8 L646.8,61.7 L648.0,61.6 L649.2,61.5 L650.3,61.4 L651.5,61.3 L652.7,61.2 L653.9,61.2 L655.1,61.1 L656.3,61.0 L657.5,60.9 L658.7,60.8 L659.9,60.8 L661.1,60.7 L662.3,60.6 L663.5,60.6 L664.7,60.5 L665.9,60.4 L667.1,60.4 L668.3,60.3 L669.5,60.2 L670.7,60.2 L671.9,60.1 L673.1,60.0 L674.3,60.0 L675.5,59.9 L676.7,59.9 L677.9,59.8 L679.1,59.8 L680.3,59.7 L681.5,59.6 L682.7,59.6 L683.9,59.5 L685.1,59.5" stroke-width="1.9" stroke-linejoin="round"/>
<g stroke-width="1.3">
<circle cx="225.5" cy="9.1" r="2.6"/>
<circle cx="232.2" cy="22.8" r="2.6"/>
<circle cx="238.8" cy="33.5" r="2.6"/>
<circle cx="245.4" cy="42.9" r="2.6"/>
<circle cx="252.0" cy="50.8" r="2.6"/>
<circle cx="258.6" cy="58.5" r="2.6"/>
<circle cx="265.2" cy="65.9" r="2.6"/>
<circle cx="271.8" cy="73.3" r="2.6"/>
<circle cx="278.5" cy="81.1" r="2.6"/>
<circle cx="285.1" cy="88.8" r="2.6"/>
<circle cx="291.7" cy="95.5" r="2.6"/>
<circle cx="298.3" cy="102.3" r="2.6"/>
<circle cx="304.9" cy="108.9" r="2.6"/>
<circle cx="311.5" cy="115.0" r="2.6"/>
<circle cx="318.2" cy="120.5" r="2.6"/>
<circle cx="324.8" cy="124.7" r="2.6"/>
<circle cx="331.4" cy="128.3" r="2.6"/>
<circle cx="344.6" cy="132.8" r="2.6"/>
<circle cx="351.2" cy="132.0" r="2.6"/>
<circle cx="357.8" cy="129.7" r="2.6"/>
<circle cx="364.5" cy="125.9" r="2.6"/>
<circle cx="371.1" cy="124.8" r="2.6"/>
<circle cx="377.7" cy="125.2" r="2.6"/>
<circle cx="384.3" cy="122.7" r="2.6"/>
<circle cx="390.9" cy="119.4" r="2.6"/>
<circle cx="397.5" cy="116.0" r="2.6"/>
<circle cx="404.1" cy="112.7" r="2.6"/>
<circle cx="410.8" cy="109.2" r="2.6"/>
<circle cx="417.4" cy="106.2" r="2.6"/>
<circle cx="424.0" cy="103.7" r="2.6"/>
<circle cx="430.6" cy="101.1" r="2.6"/>
<circle cx="437.2" cy="98.8" r="2.6"/>
<circle cx="443.8" cy="96.5" r="2.6"/>
<circle cx="450.4" cy="94.5" r="2.6"/>
<circle cx="457.1" cy="92.4" r="2.6"/>
<circle cx="463.7" cy="90.8" r="2.6"/>
<circle cx="470.3" cy="88.9" r="2.6"/>
<circle cx="476.9" cy="87.4" r="2.6"/>
<circle cx="483.5" cy="85.5" r="2.6"/>
<circle cx="490.1" cy="83.9" r="2.6"/>
<circle cx="496.7" cy="82.5" r="2.6"/>
<circle cx="503.4" cy="81.0" r="2.6"/>
<circle cx="510.0" cy="79.5" r="2.6"/>
<circle cx="516.6" cy="78.1" r="2.6"/>
<circle cx="523.2" cy="76.7" r="2.6"/>
<circle cx="529.8" cy="75.3" r="2.6"/>
<circle cx="536.4" cy="74.0" r="2.6"/>
<circle cx="543.1" cy="72.7" r="2.6"/>
<circle cx="549.7" cy="71.7" r="2.6"/>
<circle cx="576.1" cy="67.9" r="2.6"/>
<circle cx="582.7" cy="67.0" r="2.6"/>
<circle cx="589.4" cy="66.1" r="2.6"/>
<circle cx="609.2" cy="64.1" r="2.6"/>
<circle cx="622.4" cy="63.4" r="2.6"/>
<circle cx="635.7" cy="62.2" r="2.6"/>
<circle cx="648.9" cy="61.3" r="2.6"/>
<circle cx="662.1" cy="60.6" r="2.6"/>
<circle cx="675.3" cy="60.0" r="2.6"/>
</g></g>
<g fill="none" stroke="#8000ff" clip-path="url(#cp)">
<path d="M310.9,1.9 L311.2,3.1 L311.5,4.3 L311.8,5.5 L312.1,6.6 L312.4,7.8 L312.8,9.0 L313.1,10.1 L313.4,11.3 L313.7,12.5 L314.1,13.6 L314.4,14.8 L314.7,15.9 L315.0,17.1 L315.4,18.2 L315.7,19.4 L316.0,20.6 L316.4,21.7 L316.7,22.9 L317.0,24.0 L317.4,25.2 L317.7,26.3 L318.0,27.4 L318.4,28.6 L318.7,29.7 L319.1,30.9 L319.4,32.0 L319.7,33.2 L320.1,34.3 L320.4,35.4 L320.8,36.6 L321.1,37.7 L321.5,38.9 L321.8,40.0 L322.2,41.1 L322.6,42.3 L322.9,43.4 L323.3,44.5 L323.6,45.7 L324.0,46.8 L324.4,47.9 L324.7,49.1 L325.1,50.2 L325.5,51.3 L325.8,52.5 L326.2,53.6 L326.6,54.7 L327.0,55.9 L327.3,57.0 L327.7,58.1 L328.1,59.3 L328.5,60.4 L328.9,61.5 L329.3,62.6 L329.6,63.8 L330.0,64.9 L330.4,66.0 L330.8,67.2 L331.2,68.3 L331.6,69.4 L332.0,70.6 L332.4,71.7 L332.8,72.8 L333.2,74.0 L333.6,75.1 L334.0,76.2 L334.4,77.4 L334.8,78.5 L335.3,79.6 L335.7,80.8 L336.1,81.9 L336.5,83.0 L336.9,84.2 L337.4,85.3 L337.8,86.4 L338.2,87.6 L338.7,88.7 L339.1,89.8 L339.5,91.0 L340.0,92.1 L340.4,93.2 L340.9,94.3 L341.3,95.4 L341.8,96.5 L342.2,97.7 L342.7,98.8 L343.2,99.9 L343.6,101.0 L344.1,102.1 L344.6,103.1 L345.1,104.2 L345.6,105.3 L346.1,106.4 L346.6,107.5 L347.1,108.5 L347.6,109.6 L348.1,110.6 L348.6,111.7 L349.2,112.7 L349.7,113.8 L350.2,114.9 L350.8,115.9 L351.3,117.0 L351.9,118.1 L352.5,119.2 L353.0,120.3 L353.6,121.4 L354.2,122.5 L354.8,123.6 L355.4,124.7 L356.1,125.7 L356.8,126.8 L357.6,127.7 L358.4,128.6 L359.3,129.5 L360.2,130.2 L361.2,130.9 L362.3,131.4 L363.4,131.8 L364.5,132.0 L365.6,132.0 L366.7,131.8 L367.8,131.5 L368.9,131.0 L369.9,130.4 L371.0,129.8 L372.0,129.1 L373.0,128.4 L374.0,127.7 L375.0,127.0 L376.0,126.3 L376.9,125.6 L377.9,124.8 L378.8,124.1 L379.7,123.3 L380.7,122.6 L381.6,121.8 L382.5,121.0 L383.5,120.3 L384.4,119.5 L385.3,118.8 L386.3,118.1 L387.2,117.4 L388.2,116.6 L389.2,115.9 L390.1,115.2 L391.1,114.6 L392.1,113.9 L393.1,113.2 L394.1,112.6 L395.1,111.9 L396.2,111.3 L397.2,110.6 L398.2,110.0 L399.3,109.4 L400.3,108.8 L401.3,108.2 L402.4,107.6 L403.4,107.0 L404.5,106.4 L405.6,105.8 L406.6,105.3 L407.7,104.7 L408.8,104.1 L409.8,103.6 L410.9,103.0 L412.0,102.5 L413.0,101.9 L414.1,101.4 L415.2,100.9 L416.3,100.3 L417.4,99.8 L418.4,99.3 L419.5,98.8 L420.6,98.3 L421.7,97.8 L422.8,97.3 L423.9,96.8 L425.0,96.3 L426.1,95.8 L427.2,95.3 L428.3,94.8 L429.4,94.4 L430.5,93.9 L431.6,93.4 L432.7,93.0 L433.8,92.5 L434.9,92.1 L436.0,91.6 L437.1,91.2 L438.2,90.8 L439.3,90.3 L440.4,89.9 L441.5,89.5 L442.7,89.1 L443.8,88.6 L444.9,88.2 L446.0,87.8 L447.1,87.4 L448.3,87.0 L449.4,86.6 L450.5,86.2 L451.6,85.9 L452.8,85.5 L453.9,85.1 L455.0,84.7 L456.2,84.3 L457.3,84.0 L458.4,83.6 L459.6,83.3 L460.7,82.9 L461.8,82.5 L463.0,82.2 L464.1,81.9 L465.2,81.5 L466.4,81.2 L467.5,80.8 L468.7,80.5 L469.8,80.2 L471.0,79.9 L472.1,79.6 L473.3,79.2 L474.4,78.9 L475.6,78.6 L476.7,78.3 L477.9,78.0 L479.0,77.7 L480.2,77.4 L481.3,77.1 L482.5,76.8 L483.7,76.6 L484.8,76.3 L486.0,76.0 L487.1,75.7 L488.3,75.5 L489.5,75.2 L490.6,74.9 L491.8,74.7 L493.0,74.4 L494.1,74.1 L495.3,73.9 L496.5,73.6 L497.6,73.4 L498.8,73.2 L500.0,72.9 L501.2,72.7 L502.3,72.4 L503.5,72.2 L504.7,72.0 L505.8,71.8 L507.0,71.5 L508.2,71.3 L509.4,71.1 L510.6,70.9 L511.7,70.7 L512.9,70.5 L514.1,70.3 L515.3,70.1 L516.5,69.9 L517.6,69.7 L518.8,69.5 L520.0,69.3 L521.2,69.1 L522.4,68.9 L523.6,68.7 L524.8,68.5 L525.9,68.4 L527.1,68.2 L528.3,68.0 L529.5,67.8 L530.7,67.7 L531.9,67.5 L533.1,67.3 L534.3,67.2 L535.5,67.0 L536.6,66.8 L537.8,66.7 L539.0,66.5 L540.2,66.4 L541.4,66.2 L542.6,66.1 L543.8,65.9 L545.0,65.8 L546.2,65.7 L547.4,65.5 L548.6,65.4 L549.8,65.2 L551.0,65.1 L552.2,65.0 L553.4,64.8 L554.6,64.7 L555.8,64.6 L557.0,64.5 L558.2,64.3 L559.4,64.2 L560.6,64.1 L561.8,64.0 L563.0,63.9 L564.2,63.8 L565.4,63.7 L566.6,63.5 L567.8,63.4 L569.0,63.3 L570.2,63.2 L571.4,63.1 L572.6,63.0 L573.8,62.9 L575.0,62.8 L576.2,62.7 L577.4,62.6 L578.6,62.5 L579.8,62.4 L581.0,62.3 L582.2,62.3 L583.4,62.2 L584.6,62.1 L585.8,62.0 L587.0,61.9 L588.2,61.8 L589.4,61.7 L590.6,61.7 L591.8,61.6 L593.0,61.5 L594.2,61.4 L595.4,61.3 L596.7,61.3 L597.9,61.2 L599.1,61.1 L600.3,61.0 L601.5,61.0 L602.7,60.9 L603.9,60.8 L605.1,60.8 L606.3,60.7 L607.5,60.6 L608.7,60.6 L609.9,60.5 L611.1,60.4 L612.3,60.4 L613.5,60.3 L614.7,60.2 L615.9,60.2 L617.1,60.1 L618.3,60.0 L619.5,60.0 L620.7,59.9 L621.9,59.9 L623.1,59.8 L624.3,59.7 L625.5,59.7 L626.7,59.6 L627.9,59.6 L629.1,59.5 L630.3,59.5 L631.5,59.4 L632.7,59.3 L633.9,59.3 L635.1,59.2 L636.3,59.2 L637.5,59.1 L638.7,59.1 L639.9,59.0 L641.1,59.0 L642.3,58.9 L643.4,58.8 L644.6,58.8 L645.8,58.7 L647.0,58.7 L648.2,58.6 L649.4,58.6 L650.6,58.5 L651.8,58.5 L653.0,58.4 L654.2,58.4 L655.4,58.3 L656.5,58.2 L657.7,58.2 L658.9,58.1 L660.1,58.1 L661.3,58.0 L662.5,58.0 L663.7,57.9 L664.8,57.9 L666.0,57.8 L667.2,57.7 L668.4,57.7 L669.6,57.6 L670.8,57.6 L671.9,57.5 L673.1,57.5 L674.3,57.4 L675.5,57.3 L676.6,57.3 L677.8,57.2 L679.0,57.2 L680.2,57.1 L681.3,57.0 L682.5,57.0 L683.7,56.9 L684.9,56.8" stroke-width="1.9" stroke-linejoin="round"/>
<g stroke-width="1.3">
<circle cx="318.2" cy="19.7" r="2.6"/>
<circle cx="324.8" cy="41.7" r="2.6"/>
<circle cx="331.4" cy="61.1" r="2.6"/>
<circle cx="344.6" cy="92.8" r="2.6"/>
<circle cx="351.2" cy="104.1" r="2.6"/>
<circle cx="357.8" cy="113.7" r="2.6"/>
<circle cx="364.5" cy="119.2" r="2.6"/>
<circle cx="371.1" cy="118.9" r="2.6"/>
<circle cx="377.7" cy="115.1" r="2.6"/>
<circle cx="384.3" cy="110.9" r="2.6"/>
<circle cx="390.9" cy="106.7" r="2.6"/>
<circle cx="397.5" cy="103.1" r="2.6"/>
<circle cx="404.1" cy="99.8" r="2.6"/>
<circle cx="410.8" cy="96.6" r="2.6"/>
<circle cx="417.4" cy="93.8" r="2.6"/>
<circle cx="424.0" cy="91.0" r="2.6"/>
<circle cx="430.6" cy="88.5" r="2.6"/>
<circle cx="437.2" cy="86.2" r="2.6"/>
<circle cx="443.8" cy="84.2" r="2.6"/>
<circle cx="450.4" cy="82.5" r="2.6"/>
<circle cx="457.1" cy="80.5" r="2.6"/>
<circle cx="463.7" cy="78.7" r="2.6"/>
<circle cx="470.3" cy="77.0" r="2.6"/>
<circle cx="476.9" cy="75.5" r="2.6"/>
<circle cx="483.5" cy="74.0" r="2.6"/>
<circle cx="490.1" cy="72.8" r="2.6"/>
<circle cx="496.7" cy="71.5" r="2.6"/>
<circle cx="503.4" cy="70.2" r="2.6"/>
<circle cx="510.0" cy="69.1" r="2.6"/>
<circle cx="516.6" cy="68.2" r="2.6"/>
<circle cx="523.2" cy="67.3" r="2.6"/>
<circle cx="529.8" cy="66.5" r="2.6"/>
<circle cx="536.4" cy="65.8" r="2.6"/>
<circle cx="543.1" cy="65.2" r="2.6"/>
<circle cx="549.7" cy="64.5" r="2.6"/>
<circle cx="576.1" cy="62.1" r="2.6"/>
<circle cx="582.7" cy="61.5" r="2.6"/>
<circle cx="589.4" cy="61.0" r="2.6"/>
<circle cx="609.2" cy="59.6" r="2.6"/>
<circle cx="622.4" cy="58.6" r="2.6"/>
<circle cx="635.7" cy="58.1" r="2.6"/>
<circle cx="648.9" cy="57.6" r="2.6"/>
<circle cx="662.1" cy="57.2" r="2.6"/>
<circle cx="675.3" cy="56.7" r="2.6"/>
</g></g>
<g stroke="#383838" stroke-width="1.5" stroke-dasharray="6.05 5.01">
<line x1="685" y1="57.0" x2="756.9" y2="57.0"/>
<line x1="685" y1="77.8" x2="756.9" y2="77.8"/>
</g>
<g stroke="#000" stroke-width="1.75" fill="none" stroke-linecap="butt">
<line x1="121.66" y1="1.1" x2="121.66" y2="458.275"/>
<line x1="120.785" y1="457.4" x2="685.5" y2="457.4"/>
<line x1="112.7" y1="457.4" x2="121.66" y2="457.4"/>
<line x1="112.7" y1="414.0" x2="121.66" y2="414.0"/>
<line x1="112.7" y1="370.6" x2="121.66" y2="370.6"/>
<line x1="112.7" y1="327.2" x2="121.66" y2="327.2"/>
<line x1="112.7" y1="283.8" x2="121.66" y2="283.8"/>
<line x1="112.7" y1="240.4" x2="121.66" y2="240.4"/>
<line x1="112.7" y1="197.1" x2="121.66" y2="197.1"/>
<line x1="112.7" y1="153.7" x2="121.66" y2="153.7"/>
<line x1="112.7" y1="110.3" x2="121.66" y2="110.3"/>
<line x1="112.7" y1="66.9" x2="121.66" y2="66.9"/>
<line x1="112.7" y1="23.5" x2="121.66" y2="23.5"/>
<line x1="117.0" y1="435.7" x2="121.66" y2="435.7"/>
<line x1="117.0" y1="392.3" x2="121.66" y2="392.3"/>
<line x1="117.0" y1="348.9" x2="121.66" y2="348.9"/>
<line x1="117.0" y1="305.5" x2="121.66" y2="305.5"/>
<line x1="117.0" y1="262.1" x2="121.66" y2="262.1"/>
<line x1="117.0" y1="218.8" x2="121.66" y2="218.8"/>
<line x1="117.0" y1="175.4" x2="121.66" y2="175.4"/>
<line x1="117.0" y1="132.0" x2="121.66" y2="132.0"/>
<line x1="117.0" y1="88.6" x2="121.66" y2="88.6"/>
<line x1="117.0" y1="45.2" x2="121.66" y2="45.2"/>
<line x1="117.0" y1="1.8" x2="121.66" y2="1.8"/>
<line x1="121.7" y1="457.4" x2="121.7" y2="465.9"/>
<line x1="184.2" y1="457.4" x2="184.2" y2="465.9"/>
<line x1="246.8" y1="457.4" x2="246.8" y2="465.9"/>
<line x1="309.3" y1="457.4" x2="309.3" y2="465.9"/>
<line x1="371.9" y1="457.4" x2="371.9" y2="465.9"/>
<line x1="434.4" y1="457.4" x2="434.4" y2="465.9"/>
<line x1="497.0" y1="457.4" x2="497.0" y2="465.9"/>
<line x1="559.5" y1="457.4" x2="559.5" y2="465.9"/>
<line x1="622.1" y1="457.4" x2="622.1" y2="465.9"/>
<line x1="684.7" y1="457.4" x2="684.7" y2="465.9"/>
<line x1="152.9" y1="457.4" x2="152.9" y2="461.8"/>
<line x1="215.5" y1="457.4" x2="215.5" y2="461.8"/>
<line x1="278.0" y1="457.4" x2="278.0" y2="461.8"/>
<line x1="340.6" y1="457.4" x2="340.6" y2="461.8"/>
<line x1="403.2" y1="457.4" x2="403.2" y2="461.8"/>
<line x1="465.7" y1="457.4" x2="465.7" y2="461.8"/>
<line x1="528.3" y1="457.4" x2="528.3" y2="461.8"/>
<line x1="590.8" y1="457.4" x2="590.8" y2="461.8"/>
<line x1="653.4" y1="457.4" x2="653.4" y2="461.8"/>
</g>
<path d="M763,0H583V1102Q518,1043 412,983Q307,924 223,894V1061Q374,1129 487,1226Q600,1323 647,1409H763Z" transform="translate(52.48,463.50) scale(0.00952,-0.00952)" fill="#000" stroke="#000" stroke-width="32"/>
<text x="63.32" y="463.50" font-size="19.5" fill="#000" stroke="#000">6800</text>
<path d="M763,0H583V1102Q518,1043 412,983Q307,924 223,894V1061Q374,1129 487,1226Q600,1323 647,1409H763Z" transform="translate(52.48,420.11) scale(0.00952,-0.00952)" fill="#000" stroke="#000" stroke-width="32"/>
<text x="63.32" y="420.11" font-size="19.5" fill="#000" stroke="#000">7000</text>
<path d="M763,0H583V1102Q518,1043 412,983Q307,924 223,894V1061Q374,1129 487,1226Q600,1323 647,1409H763Z" transform="translate(52.48,376.72) scale(0.00952,-0.00952)" fill="#000" stroke="#000" stroke-width="32"/>
<text x="63.32" y="376.72" font-size="19.5" fill="#000" stroke="#000">7200</text>
<path d="M763,0H583V1102Q518,1043 412,983Q307,924 223,894V1061Q374,1129 487,1226Q600,1323 647,1409H763Z" transform="translate(52.48,333.33) scale(0.00952,-0.00952)" fill="#000" stroke="#000" stroke-width="32"/>
<text x="63.32" y="333.33" font-size="19.5" fill="#000" stroke="#000">7400</text>
<path d="M763,0H583V1102Q518,1043 412,983Q307,924 223,894V1061Q374,1129 487,1226Q600,1323 647,1409H763Z" transform="translate(52.48,289.94) scale(0.00952,-0.00952)" fill="#000" stroke="#000" stroke-width="32"/>
<text x="63.32" y="289.94" font-size="19.5" fill="#000" stroke="#000">7600</text>
<path d="M763,0H583V1102Q518,1043 412,983Q307,924 223,894V1061Q374,1129 487,1226Q600,1323 647,1409H763Z" transform="translate(52.48,246.55) scale(0.00952,-0.00952)" fill="#000" stroke="#000" stroke-width="32"/>
<text x="63.32" y="246.55" font-size="19.5" fill="#000" stroke="#000">7800</text>
<path d="M763,0H583V1102Q518,1043 412,983Q307,924 223,894V1061Q374,1129 487,1226Q600,1323 647,1409H763Z" transform="translate(52.48,203.16) scale(0.00952,-0.00952)" fill="#000" stroke="#000" stroke-width="32"/>
<text x="63.32" y="203.16" font-size="19.5" fill="#000" stroke="#000">8000</text>
<path d="M763,0H583V1102Q518,1043 412,983Q307,924 223,894V1061Q374,1129 487,1226Q600,1323 647,1409H763Z" transform="translate(52.48,159.77) scale(0.00952,-0.00952)" fill="#000" stroke="#000" stroke-width="32"/>
<text x="63.32" y="159.77" font-size="19.5" fill="#000" stroke="#000">8200</text>
<path d="M763,0H583V1102Q518,1043 412,983Q307,924 223,894V1061Q374,1129 487,1226Q600,1323 647,1409H763Z" transform="translate(52.48,116.38) scale(0.00952,-0.00952)" fill="#000" stroke="#000" stroke-width="32"/>
<text x="63.32" y="116.38" font-size="19.5" fill="#000" stroke="#000">8400</text>
<path d="M763,0H583V1102Q518,1043 412,983Q307,924 223,894V1061Q374,1129 487,1226Q600,1323 647,1409H763Z" transform="translate(52.48,72.99) scale(0.00952,-0.00952)" fill="#000" stroke="#000" stroke-width="32"/>
<text x="63.32" y="72.99" font-size="19.5" fill="#000" stroke="#000">8600</text>
<path d="M763,0H583V1102Q518,1043 412,983Q307,924 223,894V1061Q374,1129 487,1226Q600,1323 647,1409H763Z" transform="translate(52.48,29.60) scale(0.00952,-0.00952)" fill="#000" stroke="#000" stroke-width="32"/>
<text x="63.32" y="29.60" font-size="19.5" fill="#000" stroke="#000">8800</text>
<text x="116.24" y="487.40" font-size="19.5" fill="#000" stroke="#000">3</text>
<text x="178.79" y="487.40" font-size="19.5" fill="#000" stroke="#000">4</text>
<text x="241.35" y="487.40" font-size="19.5" fill="#000" stroke="#000">5</text>
<text x="303.90" y="487.40" font-size="19.5" fill="#000" stroke="#000">6</text>
<text x="366.46" y="487.40" font-size="19.5" fill="#000" stroke="#000">7</text>
<text x="429.01" y="487.40" font-size="19.5" fill="#000" stroke="#000">8</text>
<text x="491.57" y="487.40" font-size="19.5" fill="#000" stroke="#000">9</text>
<path d="M763,0H583V1102Q518,1043 412,983Q307,924 223,894V1061Q374,1129 487,1226Q600,1323 647,1409H763Z" transform="translate(548.70,487.40) scale(0.00952,-0.00952)" fill="#000" stroke="#000" stroke-width="32"/>
<text x="559.54" y="487.40" font-size="19.5" fill="#000" stroke="#000">0</text>
<path d="M763,0H583V1102Q518,1043 412,983Q307,924 223,894V1061Q374,1129 487,1226Q600,1323 647,1409H763Z" transform="translate(611.26,487.40) scale(0.00952,-0.00952)" fill="#000" stroke="#000" stroke-width="32"/>
<path d="M763,0H583V1102Q518,1043 412,983Q307,924 223,894V1061Q374,1129 487,1226Q600,1323 647,1409H763Z" transform="translate(622.10,487.40) scale(0.00952,-0.00952)" fill="#000" stroke="#000" stroke-width="32"/>
<path d="M763,0H583V1102Q518,1043 412,983Q307,924 223,894V1061Q374,1129 487,1226Q600,1323 647,1409H763Z" transform="translate(673.81,487.40) scale(0.00952,-0.00952)" fill="#000" stroke="#000" stroke-width="32"/>
<text x="684.65" y="487.40" font-size="19.5" fill="#000" stroke="#000">2</text>
<text x="376.33" y="523.70" font-size="24" fill="#000" stroke="#000">R [Å]</text>
<g transform="translate(26.8,251.4) rotate(-90)">
<text x="-1.97" y="0.00" font-size="24" fill="#000" stroke="#000">E [cm</text>
<text x="56.60" y="-11.40" font-size="15" fill="#000" stroke="#000">-</text>
<path d="M763,0H583V1102Q518,1043 412,983Q307,924 223,894V1061Q374,1129 487,1226Q600,1323 647,1409H763Z" transform="translate(61.60,-11.40) scale(0.00732,-0.00732)" fill="#000" stroke="#000" stroke-width="41"/>
<text x="71.90" y="0.00" font-size="24" fill="#000" stroke="#000">]</text>
</g>
<text x="252.44" y="414.10" font-size="23.5" fill="#0000ff" stroke="#0000ff">(8)</text>
<text class="om" transform="translate(280.53,414.10) scale(1.09,1)" font-size="24.3" fill="#0000ff" stroke="#0000ff">Ω</text>
<text x="299.45" y="414.10" font-size="23.5" fill="#0000ff" stroke="#0000ff">=</text>
<path d="M763,0H583V1102Q518,1043 412,983Q307,924 223,894V1061Q374,1129 487,1226Q600,1323 647,1409H763Z" transform="translate(313.18,414.10) scale(0.01147,-0.01147)" fill="#0000ff" stroke="#0000ff" stroke-width="26"/>
<text x="206.74" y="255.50" font-size="23.5" fill="#ff0000" stroke="#ff0000">(9)</text>
<text class="om" transform="translate(234.83,255.50) scale(1.09,1)" font-size="24.3" fill="#ff0000" stroke="#ff0000">Ω</text>
<text x="253.75" y="255.50" font-size="23.5" fill="#ff0000" stroke="#ff0000">=</text>
<path d="M763,0H583V1102Q518,1043 412,983Q307,924 223,894V1061Q374,1129 487,1226Q600,1323 647,1409H763Z" transform="translate(267.48,255.50) scale(0.01147,-0.01147)" fill="#ff0000" stroke="#ff0000" stroke-width="26"/>
<text x="234.44" y="150.40" font-size="23.5" fill="#00ff00" stroke="#00ff00">(</text>
<path d="M763,0H583V1102Q518,1043 412,983Q307,924 223,894V1061Q374,1129 487,1226Q600,1323 647,1409H763Z" transform="translate(242.27,150.40) scale(0.01147,-0.01147)" fill="#00ff00" stroke="#00ff00" stroke-width="26"/>
<text x="255.34" y="150.40" font-size="23.5" fill="#00ff00" stroke="#00ff00">0)</text>
<text class="om" transform="translate(275.60,150.40) scale(1.09,1)" font-size="24.3" fill="#00ff00" stroke="#00ff00">Ω</text>
<text x="294.52" y="150.40" font-size="23.5" fill="#00ff00" stroke="#00ff00">=</text>
<path d="M763,0H583V1102Q518,1043 412,983Q307,924 223,894V1061Q374,1129 487,1226Q600,1323 647,1409H763Z" transform="translate(308.25,150.40) scale(0.01147,-0.01147)" fill="#00ff00" stroke="#00ff00" stroke-width="26"/>
<text x="337.64" y="68.80" font-size="23.5" fill="#8000ff" stroke="#8000ff">(</text>
<path d="M763,0H583V1102Q518,1043 412,983Q307,924 223,894V1061Q374,1129 487,1226Q600,1323 647,1409H763Z" transform="translate(345.47,68.80) scale(0.01147,-0.01147)" fill="#8000ff" stroke="#8000ff" stroke-width="26"/>
<path d="M763,0H583V1102Q518,1043 412,983Q307,924 223,894V1061Q374,1129 487,1226Q600,1323 647,1409H763Z" transform="translate(358.54,68.80) scale(0.01147,-0.01147)" fill="#8000ff" stroke="#8000ff" stroke-width="26"/>
<text x="371.61" y="68.80" font-size="23.5" fill="#8000ff" stroke="#8000ff">)</text>
<text class="om" transform="translate(378.80,68.80) scale(1.09,1)" font-size="24.3" fill="#8000ff" stroke="#8000ff">Ω</text>
<text x="397.72" y="68.80" font-size="23.5" fill="#8000ff" stroke="#8000ff">=</text>
<path d="M763,0H583V1102Q518,1043 412,983Q307,924 223,894V1061Q374,1129 487,1226Q600,1323 647,1409H763Z" transform="translate(411.45,68.80) scale(0.01147,-0.01147)" fill="#8000ff" stroke="#8000ff" stroke-width="26"/>
<text x="592.37" y="42.60" font-size="23.5" fill="#000" stroke="#000">K(4</text>
<text x="630.75" y="32.70" font-size="15" fill="#000" stroke="#000">2</text>
<text x="638.83" y="42.60" font-size="23.5" fill="#000" stroke="#000">S</text>
<text x="656.16" y="42.60" font-size="23.5" fill="#000" stroke="#000">)</text>
<text x="662.55" y="42.60" font-size="23.5" fill="#000" stroke="#000">+Cs(5</text>
<text x="726.95" y="32.70" font-size="15" fill="#000" stroke="#000">2</text>
<text x="734.57" y="42.60" font-size="23.5" fill="#000" stroke="#000">D</text>
<text x="752.60" y="49.50" font-size="15" fill="#000" stroke="#000">5/2</text>
<text x="775.66" y="42.60" font-size="23.5" fill="#000" stroke="#000">)</text>
<text x="596.17" y="117.45" font-size="23.5" fill="#000" stroke="#000">K(4</text>
<text x="634.55" y="107.55" font-size="15" fill="#000" stroke="#000">2</text>
<text x="642.63" y="117.45" font-size="23.5" fill="#000" stroke="#000">S</text>
<text x="659.96" y="117.45" font-size="23.5" fill="#000" stroke="#000">)</text>
<text x="666.35" y="117.45" font-size="23.5" fill="#000" stroke="#000">+Cs(5</text>
<text x="730.75" y="107.55" font-size="15" fill="#000" stroke="#000">2</text>
<text x="738.37" y="117.45" font-size="23.5" fill="#000" stroke="#000">D</text>
<text x="756.43" y="124.35" font-size="15" fill="#000" stroke="#000">3/2</text>
<text x="779.46" y="117.45" font-size="23.5" fill="#000" stroke="#000">)</text>
</svg></body></html>
